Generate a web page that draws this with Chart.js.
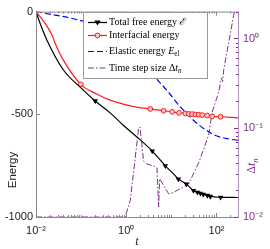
<!DOCTYPE html>
<html>
<head>
<meta charset="utf-8">
<script src="https://cdn.jsdelivr.net/npm/chart.js@4.4.0/dist/chart.umd.min.js"></script>
<style>
  html, body { margin: 0; padding: 0; background: #fff; }
</style>
</head>
<body>
<canvas id="chart" width="270" height="249"></canvas>
<script>
// ---- values ----
const tTotal = [0.01, 0.0123, 0.0173, 0.0398, 0.095, 0.205, 0.44, 0.86, 1.58, 3.78, 7.36, 11.0, 14.3, 21.5, 30.9, 37.8, 44, 51, 63, 73, 123, 300];
const eTotal = [0, -57, -137, -282, -368, -435, -493, -553, -603, -679, -751, -789, -815, -840, -871, -880, -885, -890, -895, -900, -904, -905];
const tTotalMarks = [0.205, 3.78, 7.36, 14.3, 21.5, 30.9, 37.8, 44, 51, 63, 73, 123];
const eTotalMarks = [-435, -679, -751, -815, -840, -871, -880, -885, -890, -895, -900, -904];

const tInter = [0.01, 0.0159, 0.0227, 0.0264, 0.0398, 0.0984, 0.227, 0.44, 1.58, 3.41, 6.75, 10.4, 14.8, 20.5, 24.2, 28.8, 34.1, 40.4, 48.1, 62.1, 80.2, 123, 300];
const eInter = [0, -57, -115, -153, -234, -354, -402, -431, -464, -474, -483, -488, -493, -496, -498, -499, -501, -502, -504, -506, -510, -512, -517];
const tInterMarks = [0.0984, 3.41, 6.75, 10.4, 14.8, 20.5, 24.2, 28.8, 34.1, 40.4, 48.1, 62.1, 80.2, 123];
const eInterMarks = [-354, -474, -483, -488, -493, -496, -498, -499, -501, -502, -504, -506, -510, -512];

const tElastic = [0.01, 0.095, 0.265, 0.736, 1.58, 2.64, 4.4, 8.6, 15.8, 39.8, 66, 95, 159, 300];
const eElastic = [0, -43, -77, -129, -201, -258, -320, -392, -464, -550, -584, -603, -617, -627];

const tStep = [0.01, 0.95, 1.23, 1.58, 1.87, 2.01, 2.23, 2.42, 2.88, 4.05, 4.81, 5.22, 5.5, 8.71, 11.1, 15.8, 24.2, 40.4, 67.4, 80.2, 112, 129, 137, 145, 185, 239, 280];
const dtStep = [0.01, 0.01, 0.0154, 0.0456, 0.0975, 0.102, 0.0646, 0.0423, 0.0392, 0.0372, 0.0354, 0.0129, 0.0268, 0.0182, 0.0188, 0.0208, 0.0235, 0.0405, 0.0832, 0.15, 0.249, 0.36, 0.33, 0.45, 0.88, 1.79, 2.6];

const xTicks = [0.01, 1, 100];
const yTicks = [-1000, -500, 0];
const dtTicks = [0.01, 0.1, 1];

// ---- styling ----
const PURPLE = "#7E2F8E";
const BLUE = "#0000ff";
const RED = "#ff1a1a";
const AXIS_GREY = "#8a8a8a";
const SANS = "'Liberation Sans', Arial, sans-serif";
const SERIF = "'Liberation Serif', 'Times New Roman', serif";

const SUP = { "-": "\u207B", "0": "\u2070", "1": "\u00B9", "2": "\u00B2", "3": "\u00B3" };
const powLabel = (v) => "10" + String(Math.round(Math.log10(v))).split("").map((c) => SUP[c]).join("");
const pts = (xs, ys) => xs.map((x, i) => ({ x, y: ys[i] }));

// legend entries: text pieces (it = italic, sub = subscript)
const legendRows = [
  { color: "#000", dash: [], marker: "tri", parts: [{ s: "Total free energy " }, { s: "\u2130", it: true }] },
  { color: RED, dash: [], marker: "circ", parts: [{ s: "Interfacial energy" }] },
  { color: BLUE, dash: [6, 3], marker: null, parts: [{ s: "Elastic energy " }, { s: "E", it: true }, { s: "el", sub: true }] },
  { color: PURPLE, dash: [6, 2, 1.5, 2], marker: null, parts: [{ s: "Time step size \u0394" }, { s: "t", it: true }, { s: "n", it: true, sub: true }] },
];

function drawRich(ctx, parts, x, y, size, family) {
  let cx = x;
  parts.forEach((p) => {
    const fs = p.sub ? size * 0.72 : size;
    ctx.font = `${p.it ? "italic " : ""}${fs}px ${family}`;
    ctx.fillText(p.s, cx, p.sub ? y + size * 0.3 : y);
    cx += ctx.measureText(p.s).width;
  });
  return cx - x;
}

function richWidth(ctx, parts, size, family) {
  let w = 0;
  parts.forEach((p) => {
    const fs = p.sub ? size * 0.72 : size;
    ctx.font = `${p.it ? "italic " : ""}${fs}px ${family}`;
    w += ctx.measureText(p.s).width;
  });
  return w;
}

function drawMarker(ctx, kind, x, y) {
  ctx.save();
  ctx.setLineDash([]);
  if (kind === "tri") {
    ctx.fillStyle = "#000";
    ctx.beginPath();
    ctx.moveTo(x - 3.2, y - 2);
    ctx.lineTo(x + 3.2, y - 2);
    ctx.lineTo(x, y + 3);
    ctx.closePath();
    ctx.fill();
  } else if (kind === "circ") {
    ctx.fillStyle = "#ffc4c4";
    ctx.strokeStyle = RED;
    ctx.lineWidth = 1;
    ctx.beginPath();
    ctx.arc(x, y, 2.4, 0, Math.PI * 2);
    ctx.fill();
    ctx.stroke();
  }
  ctx.restore();
}

const decorPlugin = {
  id: "decor",
  afterDraw(chart) {
    const { ctx, chartArea: a, scales } = chart;
    const { x, y, y1 } = scales;
    ctx.save();
    ctx.lineWidth = 1;

    // top frame line
    ctx.strokeStyle = AXIS_GREY;
    ctx.beginPath();
    ctx.moveTo(a.left, a.top + 0.5);
    ctx.lineTo(a.right, a.top + 0.5);
    ctx.stroke();

    // x ticks (inward, bottom + top), with log minor ticks
    for (let n = -2; n <= 2; n++) {
      for (let k = 1; k <= 9; k++) {
        const v = k * Math.pow(10, n);
        if (v < x.min || v > x.max) continue;
        const px = Math.round(x.getPixelForValue(v)) + 0.5;
        const len = xTicks.includes(v) ? 4 : 2;
        ctx.beginPath();
        ctx.moveTo(px, a.bottom);
        ctx.lineTo(px, a.bottom - len);
        ctx.moveTo(px, a.top);
        ctx.lineTo(px, a.top + len);
        ctx.stroke();
      }
    }
    // left y ticks
    yTicks.forEach((v) => {
      const py = Math.round(y.getPixelForValue(v)) + 0.5;
      ctx.beginPath();
      ctx.moveTo(a.left, py);
      ctx.lineTo(a.left + 4, py);
      ctx.stroke();
    });
    // right log ticks
    ctx.strokeStyle = PURPLE;
    for (let n = -2; n <= 0; n++) {
      for (let k = 1; k <= 9; k++) {
        const v = k * Math.pow(10, n);
        if (v < y1.min || v > y1.max) continue;
        const py = Math.round(y1.getPixelForValue(v)) + 0.5;
        const len = dtTicks.includes(v) ? 4 : 2;
        ctx.beginPath();
        ctx.moveTo(a.right, py);
        ctx.lineTo(a.right - len, py);
        ctx.stroke();
      }
    }

    // legend box
    const bx = 83, by = 12, bw = 124, bh = 66;
    ctx.fillStyle = "#fff";
    ctx.fillRect(bx, by, bw, bh);
    ctx.strokeStyle = "#9a9a9a";
    ctx.strokeRect(bx + 0.5, by + 0.5, bw, bh);
    const rowY = [22.5, 35.5, 51.5, 68];
    ctx.textBaseline = "middle";
    legendRows.forEach((r, i) => {
      const ly = rowY[i];
      ctx.strokeStyle = r.color;
      ctx.lineWidth = 1.2;
      ctx.setLineDash(r.dash);
      ctx.beginPath();
      ctx.moveTo(88, ly);
      ctx.lineTo(107, ly);
      ctx.stroke();
      ctx.setLineDash([]);
      if (r.marker) drawMarker(ctx, r.marker, 97.5, ly);
      ctx.fillStyle = "#000";
      drawRich(ctx, r.parts, 109, ly, 10, SERIF);
    });

    // left axis title
    ctx.fillStyle = "#222";
    ctx.font = `11.5px ${SANS}`;
    ctx.textAlign = "center";
    ctx.save();
    ctx.translate(13, 170);
    ctx.rotate(-Math.PI / 2);
    ctx.fillText("Energy", 0, 0);
    ctx.restore();

    // right axis title
    const dtParts = [{ s: "\u0394" }, { s: "t", it: true }, { s: "n", it: true, sub: true }];
    ctx.fillStyle = PURPLE;
    ctx.textAlign = "left";
    ctx.save();
    ctx.translate(252, 166);
    ctx.rotate(-Math.PI / 2);
    const w = richWidth(ctx, dtParts, 12, SERIF);
    drawRich(ctx, dtParts, -w / 2, 0, 12, SERIF);
    ctx.restore();

    ctx.restore();
  },
};

const ctx = document.getElementById("chart").getContext("2d");
new Chart(ctx, {
  type: "line",
  data: {
    datasets: [
      {
        data: pts(tTotalMarks, eTotalMarks), showLine: false, yAxisID: "y",
        pointStyle: "triangle", pointRotation: 180, pointRadius: 3.2,
        pointBackgroundColor: "#000", pointBorderColor: "#000", pointBorderWidth: 0,
      },
      {
        data: pts(tTotal, eTotal), yAxisID: "y", borderColor: "#000", borderWidth: 1.2,
        pointRadius: 0, cubicInterpolationMode: "monotone",
      },
      {
        data: pts(tInterMarks, eInterMarks), showLine: false, yAxisID: "y",
        pointStyle: "circle", pointRadius: 2.4,
        pointBackgroundColor: "#ffc4c4", pointBorderColor: RED, pointBorderWidth: 1,
      },
      {
        data: pts(tInter, eInter), yAxisID: "y", borderColor: RED, borderWidth: 1.2,
        pointRadius: 0, cubicInterpolationMode: "monotone",
      },
      {
        data: pts(tElastic, eElastic), yAxisID: "y", borderColor: BLUE, borderWidth: 1.2,
        borderDash: [6, 3], pointRadius: 0, cubicInterpolationMode: "monotone",
      },
      {
        data: pts(tStep, dtStep), yAxisID: "y1", borderColor: PURPLE, borderWidth: 1,
        borderDash: [6, 2, 1.5, 2], pointRadius: 0, tension: 0,
      },
    ],
  },
  options: {
    responsive: false,
    animation: false,
    devicePixelRatio: 1,
    layout: { padding: { top: 8, left: 0, right: 0, bottom: 0 } },
    plugins: { legend: { display: false }, tooltip: { enabled: false }, title: { display: false } },
    scales: {
      x: {
        type: "logarithmic", position: "bottom", min: 0.01, max: 300,
        grid: { display: false, drawTicks: false },
        border: { display: true, color: AXIS_GREY, width: 1 },
        afterBuildTicks: (s) => { s.ticks = xTicks.map((v) => ({ value: v })); },
        afterFit: (s) => { s.height = 32; },
        ticks: {
          callback: (v) => powLabel(v), autoSkip: false, maxRotation: 0, padding: 7,
          color: "#222", font: { family: SANS, size: 11 },
        },
        title: { display: true, text: "t", color: "#222", font: { family: SERIF, size: 12, style: "italic" }, padding: 0 },
      },
      y: {
        type: "linear", position: "left", min: -1000, max: 0,
        grid: { display: false, drawTicks: false },
        border: { display: true, color: AXIS_GREY, width: 1 },
        afterBuildTicks: (s) => { s.ticks = yTicks.map((v) => ({ value: v })); },
        afterFit: (s) => { s.width = 36; },
        ticks: { callback: (v) => String(v), padding: 3, color: "#222", font: { family: SANS, size: 11 } },
      },
      y1: {
        type: "logarithmic", position: "right", min: 0.01, max: 2,
        grid: { display: false, drawTicks: false },
        border: { display: true, color: "#b58fc0", width: 1 },
        afterBuildTicks: (s) => { s.ticks = dtTicks.map((v) => ({ value: v })); },
        afterFit: (s) => { s.width = 32; },
        ticks: {
          callback: (v) => powLabel(v), autoSkip: false, padding: 5,
          color: PURPLE, font: { family: SANS, size: 11 },
        },
      },
    },
  },
  plugins: [decorPlugin],
});
</script>
</body>
</html>
